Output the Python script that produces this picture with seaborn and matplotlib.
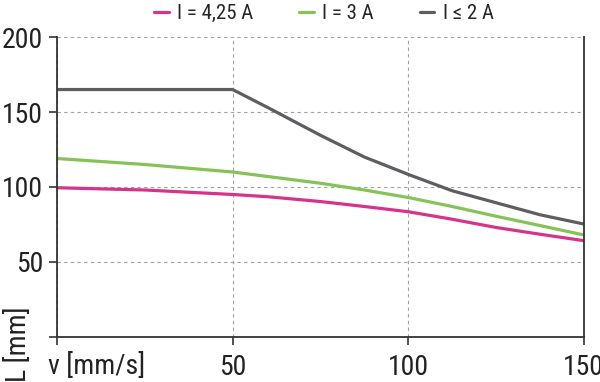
import matplotlib
matplotlib.use("Agg")
import matplotlib.pyplot as plt
import pandas as pd
import seaborn as sns

# Data
speed = [0, 25, 50, 60, 75, 87.5, 100, 112.5, 125, 137.5, 150]
len_425 = [99.5, 98, 95, 93.5, 90.3, 87, 83.5, 78.5, 73, 68.5, 64.2]
len_3 = [119, 115, 110, 107, 102.5, 98, 93, 87, 80.5, 74.3, 68]
len_2 = [165, 165, 165, 153, 134.5, 120, 108.4, 97.5, 89.5, 81.5, 75.3]

labels = ["I = 4,25 A", "I = 3 A", "I \u2264 2 A"]
colors = ["#d6338a", "#85c257", "#5e5e62"]

df = pd.concat(
    [
        pd.DataFrame({"v": speed, "L": vals, "Current": lab})
        for vals, lab in zip([len_425, len_3, len_2], labels)
    ],
    ignore_index=True,
)

sns.set_theme(style="white")
plt.rcParams["font.family"] = ["Roboto Condensed", "DejaVu Sans"]

fig = plt.figure(figsize=(6, 3.82), dpi=100)
ax = fig.add_axes([0.095, 0.118, 0.878, 0.785])

sns.lineplot(
    data=df,
    x="v",
    y="L",
    hue="Current",
    hue_order=labels,
    palette=colors,
    linewidth=2.3,
    ax=ax,
    legend=False,
)

ax.set_xlim(0, 150)
ax.set_ylim(0, 200)
ax.set_xticks([0, 50, 100, 150])
ax.set_xticklabels(["", "50", "100", "150"])
ax.set_yticks([0, 50, 100, 150, 200])
ax.set_yticklabels(["", "50", "100", "150", "200"])
ax.tick_params(
    axis="both", direction="out", length=6, width=1.2, color="#333333",
    labelsize=20, labelcolor="#222222", bottom=True, left=True,
)
ax.tick_params(axis="x", pad=6)
ax.tick_params(axis="y", pad=4)

ax.grid(True, linestyle=(0, (3, 3)), color="#a0a0a0", linewidth=0.8)
for s in ["left", "right", "bottom"]:
    ax.spines[s].set_visible(True)
    ax.spines[s].set_color("#333333")
    ax.spines[s].set_linewidth(1.3)
ax.spines["top"].set_visible(False)

ax.set_xlabel("")
ax.set_ylabel("")
fig.text(0.08, 0.005, "v [mm/s]", fontsize=20, color="#222222", ha="left", va="bottom")
fig.text(0.008, 0.0, "L [mm]", fontsize=20, color="#222222", rotation=90,
         ha="left", va="bottom")

handles = [plt.Line2D([], [], color=c, linewidth=2.3) for c in colors]
fig.legend(
    handles, labels, loc="center", bbox_to_anchor=(0.54, 0.965), ncol=3,
    frameon=False, fontsize=15, handlelength=0.7, handletextpad=0.4,
    columnspacing=2.2,
)

fig.savefig("out.png", dpi=100)
